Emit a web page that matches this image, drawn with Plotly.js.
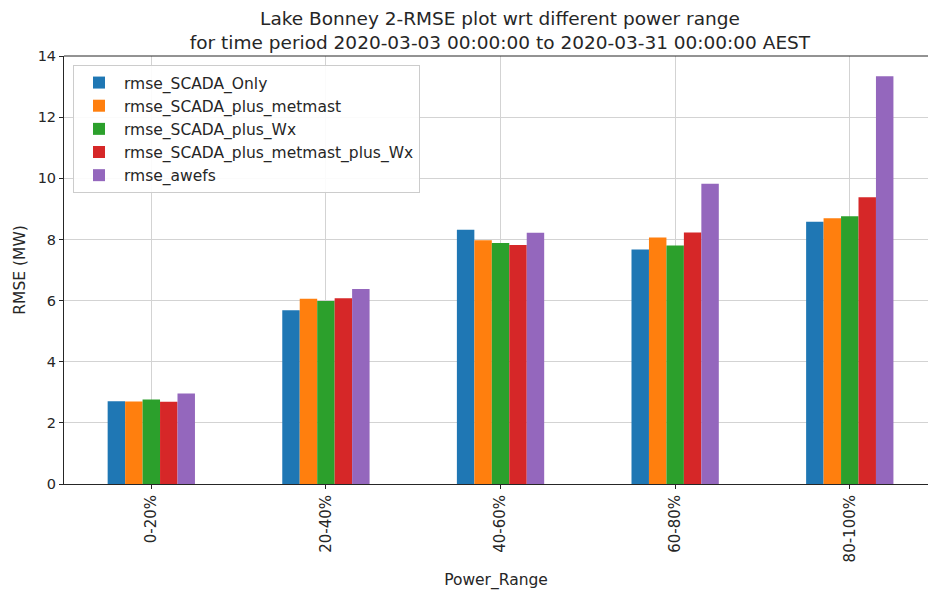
<!DOCTYPE html>
<html>
<head>
<meta charset="utf-8">
<script src="https://cdn.plot.ly/plotly-3.0.1.min.js"></script>
<style>html,body{margin:0;padding:0;background:#fff;}#chart{width:928px;height:593px;}</style>
</head>
<body>
<div id="chart"></div>
<script>
const categories = ["0-20%", "20-40%", "40-60%", "60-80%", "80-100%"];
const seriesNames = ["rmse_SCADA_Only", "rmse_SCADA_plus_metmast", "rmse_SCADA_plus_Wx", "rmse_SCADA_plus_metmast_plus_Wx", "rmse_awefs"];
const rmse_SCADA_Only = [2.71, 5.68, 8.32, 7.67, 8.58];
const rmse_SCADA_plus_metmast = [2.70, 6.06, 7.97, 8.06, 8.69];
const rmse_SCADA_plus_Wx = [2.76, 5.99, 7.88, 7.80, 8.76];
const rmse_SCADA_plus_metmast_plus_Wx = [2.69, 6.08, 7.82, 8.23, 9.38];
const rmse_awefs = [2.96, 6.38, 8.22, 9.82, 13.34];
const yTicks = [0, 2, 4, 6, 8, 10, 12, 14];

const seriesValues = [rmse_SCADA_Only, rmse_SCADA_plus_metmast, rmse_SCADA_plus_Wx, rmse_SCADA_plus_metmast_plus_Wx, rmse_awefs];
const colors = ["#1f77b4", "#ff7f0e", "#2ca02c", "#d62728", "#9467bd"];

const traces = seriesNames.map((n, i) => ({
  type: "bar",
  name: n,
  x: categories,
  y: seriesValues[i],
  marker: {color: colors[i], line: {width: 0}},
  hoverinfo: "none"
}));

const font = "DejaVu Sans, Liberation Sans, sans-serif";
const layout = {
  width: 928, height: 593,
  margin: {l: 64, r: 0, t: 56, b: 109, pad: 0},
  paper_bgcolor: "#ffffff",
  plot_bgcolor: "#ffffff",
  font: {family: font, size: 14, color: "#262626"},
  barmode: "group",
  bargap: 0.5,
  bargroupgap: 0,
  showlegend: true,
  title: {
    text: "Lake Bonney 2-RMSE plot wrt different power range<br>for time period 2020-03-03 00:00:00 to 2020-03-31 00:00:00 AEST",
    font: {family: font, size: 18.5, color: "#262626"},
    x: 0.5046, xref: "paper", xanchor: "center",
    y: 1 - 25/593, yref: "container", yanchor: "middle"
  },
  xaxis: {
    type: "category",
    range: [-0.5, 4.448],
    showgrid: true, gridcolor: "#d3d3d3", gridwidth: 1,
    ticks: "outside", ticklen: 4, tickcolor: "#262626",
    tickangle: -90,
    tickfont: {family: font, size: 15, color: "#262626"},
    showline: true, linecolor: "#262626", linewidth: 1, mirror: false,
    title: {text: "Power_Range", font: {family: font, size: 15.5, color: "#262626"}, standoff: 12},
    zeroline: false
  },
  yaxis: {
    range: [0, 14],
    tickvals: yTicks,
    ticktext: yTicks.map(String),
    showgrid: true, gridcolor: "#d3d3d3", gridwidth: 1,
    ticks: "outside", ticklen: 4, tickcolor: "#262626",
    tickfont: {family: font, size: 14.5, color: "#262626"},
    showline: true, linecolor: "#262626", linewidth: 1,
    mirror: false,
    title: {text: "RMSE (MW)", font: {family: font, size: 15.5, color: "#262626"}, standoff: 8},
    zeroline: false
  },
  shapes: [{type: "line", xref: "paper", yref: "paper", x0: 0, x1: 1, y0: 1, y1: 1, line: {color: "#262626", width: 1}}],
  legend: {
    x: 0.0104, y: 0.979, xanchor: "left", yanchor: "top",
    bgcolor: "rgba(255,255,255,0.9)",
    bordercolor: "#cccccc", borderwidth: 1,
    font: {family: font, size: 15.5, color: "#262626"},
    traceorder: "normal",
    itemwidth: 40
  }
};

Plotly.newPlot("chart", traces, layout, {displayModeBar: false, staticPlot: true});
</script>
</body>
</html>
